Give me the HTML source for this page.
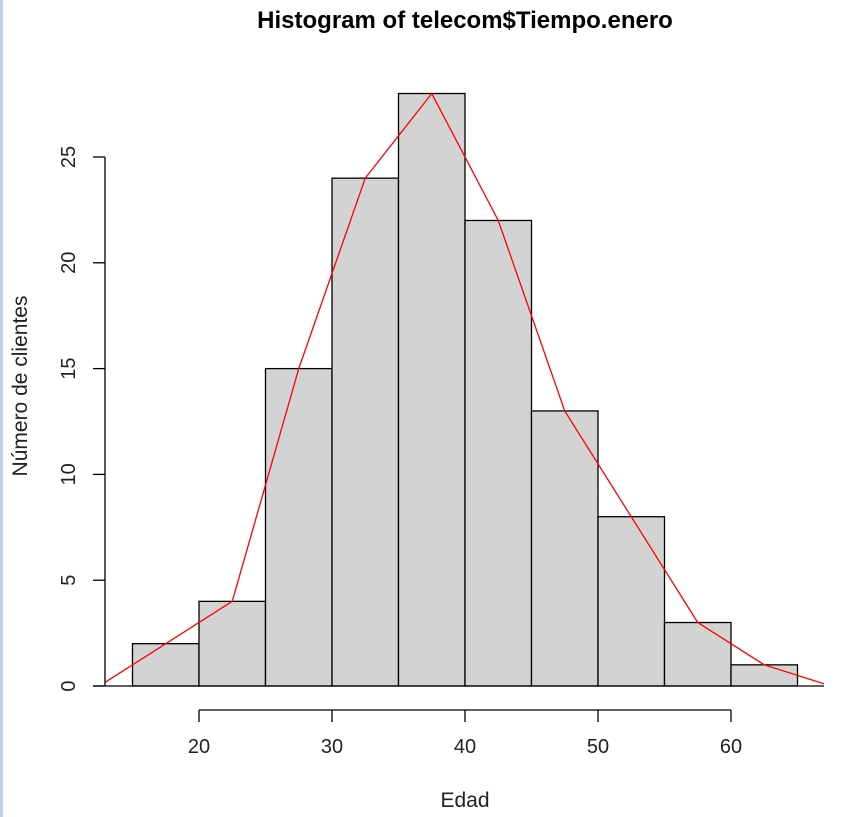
<!DOCTYPE html>
<html><head><meta charset="utf-8"><style>
body{margin:0;background:#fff;}
svg{display:block;font-family:"Liberation Sans",Arial,sans-serif;}
</style></head><body>
<svg id="chart" width="862" height="817" viewBox="0 0 862 817">
<rect x="0" y="0" width="3" height="817" fill="#b9d1f1"/>
<text x="465" y="28" text-anchor="middle" font-size="24" font-weight="bold">Histogram of telecom$Tiempo.enero</text>
<text transform="translate(27,386) rotate(-90)" text-anchor="middle" font-size="21" fill="#222">Número de clientes</text>
<text x="465" y="807" text-anchor="middle" font-size="21" fill="#222">Edad</text>
<g id="bars"></g><g id="axes"></g>
</svg>
<script>
const breaks=[15,20,25,30,35,40,45,50,55,60,65];
const counts=[2,4,15,24,28,22,13,8,3,1];
const polyX=[12.5,17.5,22.5,27.5,32.5,37.5,42.5,47.5,52.5,57.5,62.5,67.5];
const polyY=[0,2,4,15,24,28,22,13,8,3,1,0];
const xTicks=[20,30,40,50,60];
const yTicks=[0,5,10,15,20,25];
const NS="http://www.w3.org/2000/svg";
const sx=v=>199+(v-20)*(731-199)/40;
const sy=v=>686-v*(686-157)/25;
const bars=document.getElementById('bars'),axes=document.getElementById('axes');
function mk(p,tag,attrs){const e=document.createElementNS(NS,tag);for(const k in attrs)e.setAttribute(k,attrs[k]);p.appendChild(e);return e;}
counts.forEach((c,i)=>{
 const r=mk(bars,'rect',{x:sx(breaks[i]),y:sy(c),width:sx(breaks[i+1])-sx(breaks[i]),height:sy(0)-sy(c),fill:'#d3d3d3',stroke:'#000','stroke-width':1.3});
 
 
});
const base=mk(bars,'line',{x1:93,y1:sy(0),x2:824,y2:sy(0),stroke:'#000','stroke-width':1.3});


mk(bars,'clipPath',{id:'clip'}).appendChild(document.createElementNS(NS,'rect'));
const cr=document.querySelector('#clip rect');cr.setAttribute('x',105);cr.setAttribute('y',40);cr.setAttribute('width',719);cr.setAttribute('height',660);
const pl=mk(bars,'polyline',{points:polyX.map((x,i)=>sx(x)+','+sy(polyY[i])).join(' '),fill:'none',stroke:'#ff0000','stroke-width':1.3,'clip-path':'url(#clip)'});


const yl=mk(axes,'line',{x1:105,y1:sy(0),x2:105,y2:sy(25),stroke:'#000','stroke-width':1.3});


yTicks.forEach(t=>{
 mk(axes,'line',{x1:93,y1:sy(t),x2:105,y2:sy(t),stroke:'#000','stroke-width':1.3});
 const tx=mk(axes,'text',{transform:`translate(75,${sy(t)}) rotate(-90)`,'text-anchor':'middle','font-size':20,fill:'#222'});
 tx.textContent=t;
 
 
});
const xl=mk(axes,'line',{x1:sx(20),y1:710,x2:sx(60),y2:710,stroke:'#000','stroke-width':1.3});


xTicks.forEach(t=>{
 mk(axes,'line',{x1:sx(t),y1:710,x2:sx(t),y2:722,stroke:'#000','stroke-width':1.3});
 const tx=mk(axes,'text',{x:sx(t),y:753,'text-anchor':'middle','font-size':20,fill:'#222'});
 tx.textContent=t;
 
 
});
</script>
</body></html>
